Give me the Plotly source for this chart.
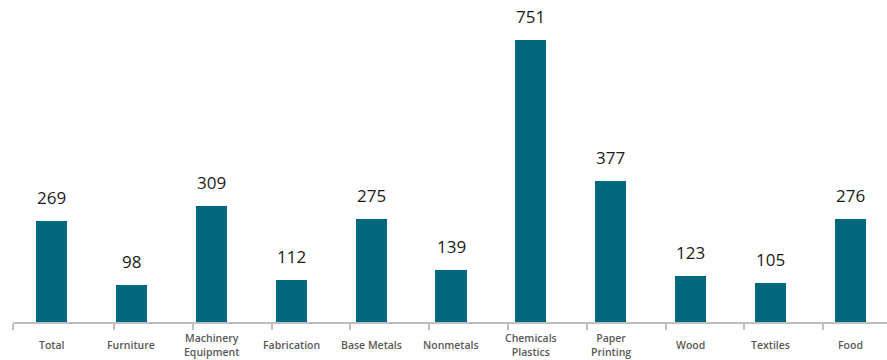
import plotly.graph_objects as go

# Industry categories and their values
categories = ["Total", "Furniture", "Machinery<br>Equipment", "Fabrication", "Base Metals",
              "Nonmetals", "Chemicals<br>Plastics", "Paper<br>Printing", "Wood", "Textiles", "Food"]
values = [269, 98, 309, 112, 275, 139, 751, 377, 123, 105, 276]

# Separator tick positions along the category axis (in category units)
separator_ticks = [-0.482, 0.782, 1.771, 2.76, 3.736, 4.725, 5.713, 6.702, 7.691, 8.667, 9.655]

BAR_COLOR = "#00687D"
AXIS_COLOR = "#BFBFBF"
LABEL_COLOR = "#595959"

x_pos = list(range(len(categories)))
x_range = [-0.482, 10.457]

fig = go.Figure()
fig.add_trace(go.Bar(
    x=x_pos, y=values, width=0.39,
    marker=dict(color=BAR_COLOR, line=dict(width=0)),
    hoverinfo="skip",
))

annotations = []
for xi, v in zip(x_pos, values):
    annotations.append(dict(
        x=xi, y=v, xref="x", yref="y", text=str(v), showarrow=False,
        yanchor="bottom", yshift=10,
        font=dict(family="Open Sans", size=17, color="#1A1A1A"),
    ))
for xi, c in zip(x_pos, categories):
    annotations.append(dict(
        x=xi, y=0, xref="x", yref="paper", text=c, showarrow=False,
        yanchor="middle", yshift=-23,
        font=dict(family="Open Sans", size=10.5, color=LABEL_COLOR, weight=600),
    ))

fig.update_layout(
    width=887, height=360,
    margin=dict(l=13, r=0, t=0, b=38),
    paper_bgcolor="white", plot_bgcolor="white",
    showlegend=False,
    bargap=0,
    annotations=annotations,
    xaxis=dict(
        range=x_range, showgrid=False, zeroline=False,
        showline=True, linecolor=AXIS_COLOR, linewidth=1.5,
        tickvals=separator_ticks, ticktext=[""] * len(separator_ticks),
        ticks="outside", ticklen=6, tickcolor=AXIS_COLOR, tickwidth=1.5,
        fixedrange=True,
    ),
    yaxis=dict(
        range=[0, 858.7], visible=False, showgrid=False, zeroline=False,
        fixedrange=True,
    ),
)

fig.write_html("out.html")
